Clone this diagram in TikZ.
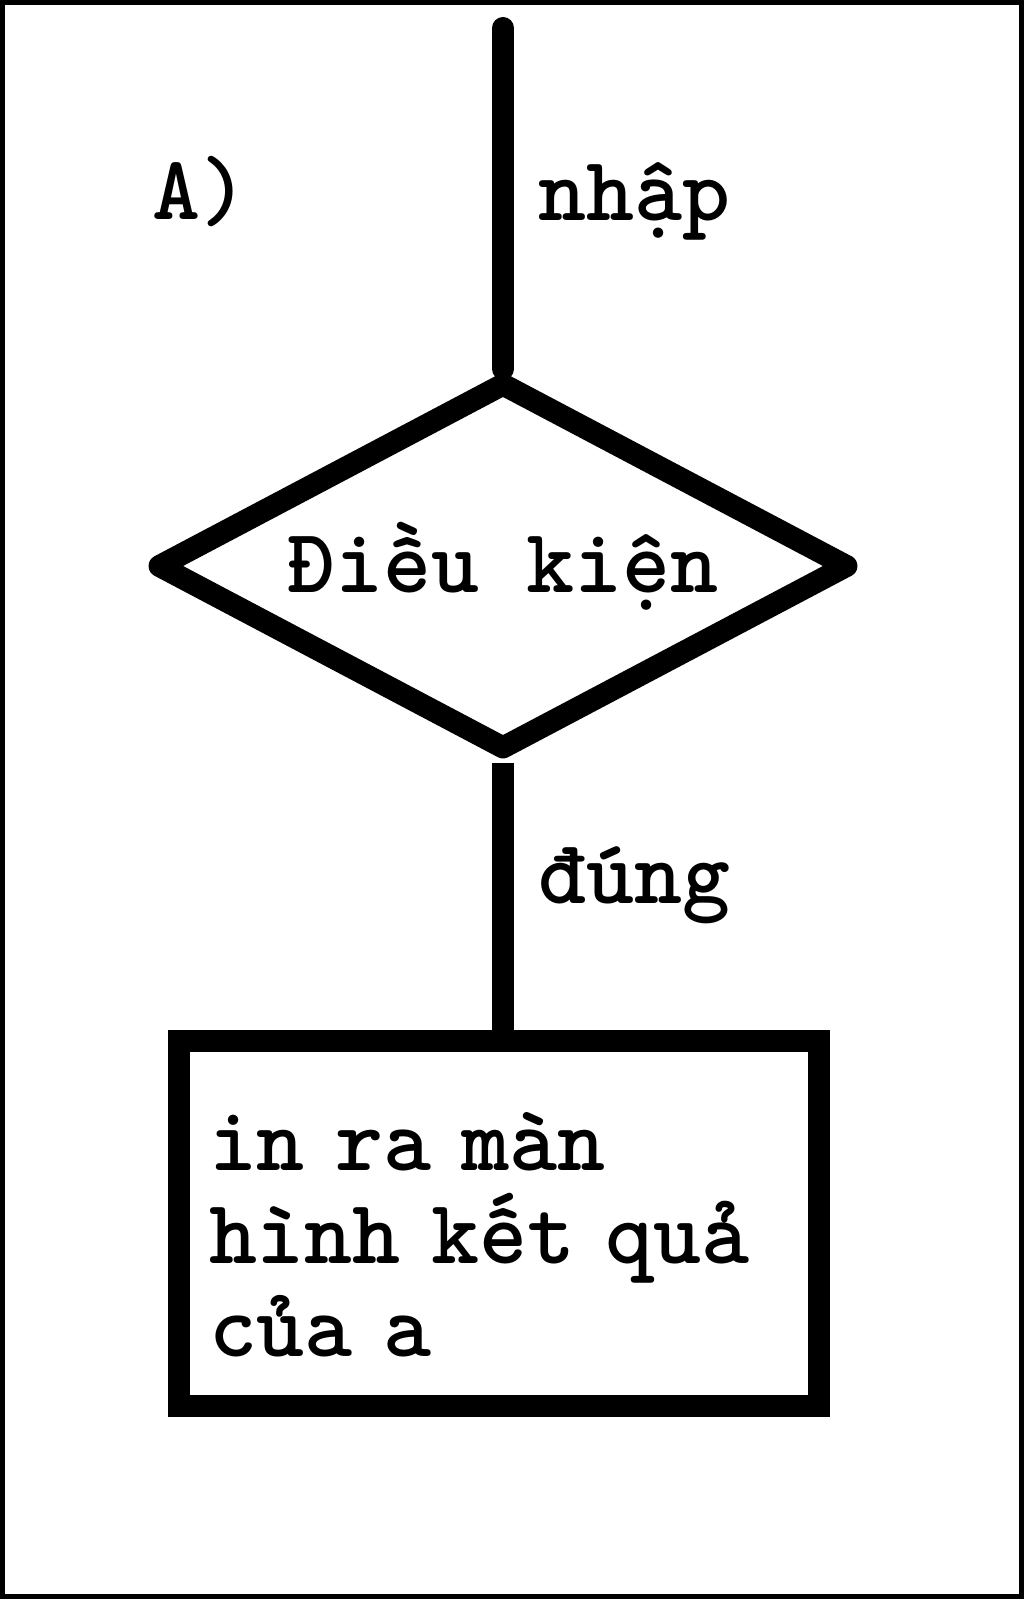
\documentclass[tikz,border=0pt]{standalone}
\usepackage{fontspec}
\usetikzlibrary{shapes.geometric}
\newcommand{\flowfont}{\ttfamily\bfseries\fontsize{45.7}{46.5}\selectfont}
\tikzset{
    flow-line/.style = {line width=11pt, line join=round},
    cond-diamond/.style = {draw, diamond, shape aspect=1.87, line width=11pt, line join=round, minimum width=348pt, minimum height=186pt, inner sep=0pt, font=\flowfont},
    out-box/.style = {draw, rectangle, line width=11pt, minimum width=320pt, minimum height=182.5pt, text width=290pt, text height=40pt, align=left, inner sep=0pt, font=\flowfont},
    flow-label/.style = {anchor=base west, inner sep=0pt, font=\flowfont},
}

\begin{document}
\begin{tikzpicture}[x=0.5pt, y=-0.5pt]
\useasboundingbox (0,0) rectangle (1024,1599);
\draw[line width=2.5pt] (2.5,2.5) rectangle (1021.5,1596.5);
\coordinate (top-end) at (503,28);
\node[cond-diamond] (cond) at (503,566) {Điều kiện};
\node[out-box] (output) at (499,1223.5) {in ra màn\\hình kết quả\\của a};
\node[flow-label] (part-label) at (152,220) {A)};
\node[flow-label] (in-label) at (538,221) {nhập};
\node[flow-label] (yes-label) at (538,903) {đúng};
\draw[flow-line, line cap=round] (top-end) -- (cond.north);
\draw[flow-line] (cond.south) -- (cond.south |- output.north);
\end{tikzpicture}
\end{document}
